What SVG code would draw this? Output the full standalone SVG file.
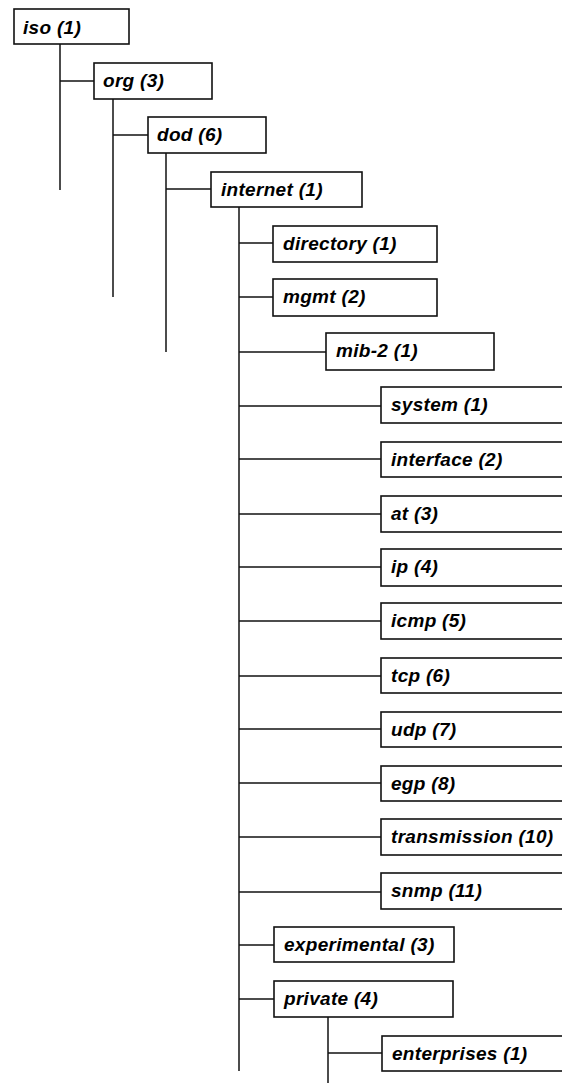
<svg xmlns="http://www.w3.org/2000/svg" width="562" height="1083" viewBox="0 0 562 1083">
<style>
rect{fill:#fff;stroke:#111;stroke-width:1.6}
text{font-family:"Liberation Sans",Arial,sans-serif;font-weight:bold;font-style:italic;font-size:19px;letter-spacing:0.3px;fill:#000}
.c line{stroke:#111;stroke-width:1.5}
</style>
<rect x="0" y="0" width="562" height="1083" style="fill:#fff;stroke:none"/>
<g class="c" id="connectors">
<line x1="60" y1="44" x2="60" y2="190"/><line x1="60" y1="81" x2="94" y2="81"/>
<line x1="113" y1="99" x2="113" y2="297"/><line x1="113" y1="135" x2="148" y2="135"/>
<line x1="166" y1="153" x2="166" y2="352"/><line x1="166" y1="189" x2="211" y2="189"/>
<line x1="239" y1="207" x2="239" y2="1071"/>
<line x1="239" y1="243" x2="273" y2="243"/>
<line x1="239" y1="297" x2="273" y2="297"/>
<line x1="239" y1="352" x2="326" y2="352"/>
<line x1="239" y1="406" x2="381" y2="406"/>
<line x1="239" y1="459" x2="381" y2="459"/>
<line x1="239" y1="514" x2="381" y2="514"/>
<line x1="239" y1="567" x2="381" y2="567"/>
<line x1="239" y1="621" x2="381" y2="621"/>
<line x1="239" y1="676" x2="381" y2="676"/>
<line x1="239" y1="729" x2="381" y2="729"/>
<line x1="239" y1="783" x2="381" y2="783"/>
<line x1="239" y1="837" x2="381" y2="837"/>
<line x1="239" y1="892" x2="381" y2="892"/>
<line x1="239" y1="945" x2="274" y2="945"/>
<line x1="239" y1="999" x2="274" y2="999"/>
<line x1="328" y1="1017" x2="328" y2="1083"/><line x1="328" y1="1053" x2="382" y2="1053"/>
</g>
<g id="iso"><rect x="14" y="9" width="115" height="35"/><text x="23" y="34">iso (1)</text></g>
<g id="org"><rect x="94" y="63" width="118" height="36"/><text x="103" y="87">org (3)</text></g>
<g id="dod"><rect x="148" y="117" width="118" height="36"/><text x="157" y="141">dod (6)</text></g>
<g id="internet"><rect x="211" y="172" width="151" height="35"/><text x="221" y="196">internet (1)</text></g>
<g id="directory"><rect x="273" y="226" width="164" height="36"/><text x="283" y="250">directory (1)</text></g>
<g id="mgmt"><rect x="273" y="279" width="164" height="37"/><text x="283" y="303">mgmt (2)</text></g>
<g id="mib-2"><rect x="326" y="333" width="168" height="37"/><text x="336" y="357">mib-2 (1)</text></g>
<g id="system"><rect x="381" y="387" width="200" height="36"/><text x="391" y="411">system (1)</text></g>
<g id="interface"><rect x="381" y="442" width="200" height="35"/><text x="391" y="466">interface (2)</text></g>
<g id="at"><rect x="381" y="496" width="200" height="36"/><text x="391" y="520">at (3)</text></g>
<g id="ip"><rect x="381" y="549" width="200" height="37"/><text x="391" y="573">ip (4)</text></g>
<g id="icmp"><rect x="381" y="603" width="200" height="36"/><text x="391" y="627">icmp (5)</text></g>
<g id="tcp"><rect x="381" y="658" width="200" height="35"/><text x="391" y="682">tcp (6)</text></g>
<g id="udp"><rect x="381" y="712" width="200" height="35"/><text x="391" y="736">udp (7)</text></g>
<g id="egp"><rect x="381" y="766" width="200" height="35"/><text x="391" y="790">egp (8)</text></g>
<g id="transmission"><rect x="381" y="819" width="200" height="36"/><text x="391" y="843">transmission (10)</text></g>
<g id="snmp"><rect x="381" y="873" width="200" height="36"/><text x="391" y="897">snmp (11)</text></g>
<g id="experimental"><rect x="274" y="927" width="180" height="35"/><text x="284" y="951">experimental (3)</text></g>
<g id="private"><rect x="274" y="981" width="179" height="36"/><text x="284" y="1005">private (4)</text></g>
<g id="enterprises"><rect x="382" y="1036" width="200" height="35"/><text x="392" y="1060">enterprises (1)</text></g>
</svg>
